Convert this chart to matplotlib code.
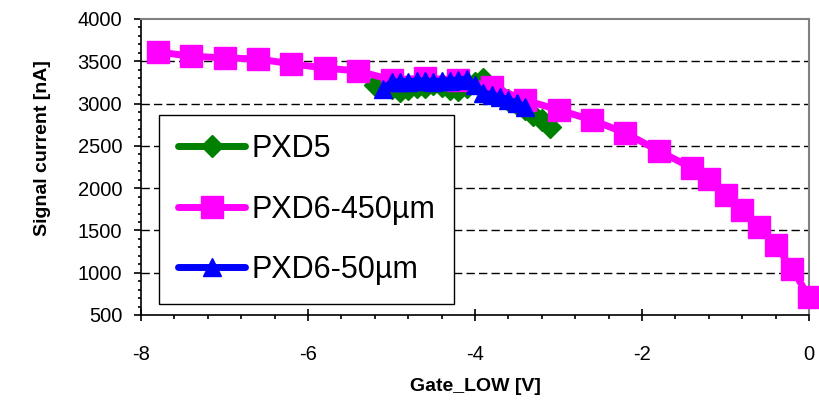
import numpy as np
import matplotlib
matplotlib.use('Agg')
import matplotlib.pyplot as plt
from matplotlib.ticker import MultipleLocator

plt.rcParams['font.family'] = ['Liberation Sans', 'DejaVu Sans']
plt.rcParams['axes.unicode_minus'] = False

# PXD5 (gruen, Rauten)
pxd5_x = [-5.2, -5.1, -5.0, -4.9, -4.8, -4.7, -4.6, -4.5, -4.4, -4.3, -4.2,
          -4.1, -4.0, -3.9, -3.8, -3.7, -3.6, -3.5, -3.4, -3.3, -3.2, -3.1]
pxd5_y = [3220, 3200, 3180, 3150, 3170, 3190, 3200, 3230, 3210, 3170, 3160,
          3200, 3240, 3290, 3180, 3100, 3040, 2990, 2940, 2870, 2800, 2720]

# PXD6-450um (magenta, Quadrate)
pxd6_450_x = [-7.8, -7.4, -7.0, -6.6, -6.2, -5.8, -5.4, -5.0, -4.6, -4.2,
              -3.8, -3.4, -3.0, -2.6, -2.2, -1.8, -1.4, -1.2, -1.0, -0.8,
              -0.6, -0.4, -0.2, 0.0]
pxd6_450_y = [3610, 3560, 3540, 3527, 3470, 3420, 3385, 3280, 3300, 3280,
              3200, 3040, 2925, 2806, 2652, 2440, 2238, 2108, 1920, 1742,
              1540, 1328, 1044, 713]

# PXD6-50um (blau, Dreiecke)
pxd6_50_x = [-5.1, -5.0, -4.9, -4.8, -4.7, -4.6, -4.5, -4.4, -4.3, -4.2,
             -4.1, -4.0, -3.9, -3.8, -3.7, -3.6, -3.5, -3.4]
pxd6_50_y = [3170, 3250, 3260, 3260, 3265, 3265, 3260, 3265, 3270, 3280,
             3290, 3220, 3130, 3100, 3080, 3040, 3010, 2960]

fig = plt.figure(figsize=(8.2, 4.11), dpi=100)
ax = fig.add_axes([0.172, 0.2336, 0.8146, 0.7202])

ax.plot(pxd5_x, pxd5_y, color='#008000', lw=5, marker='D', ms=11,
        mec='#008000', solid_capstyle='round', label='PXD5', zorder=3,
        clip_on=False)
ax.plot(pxd6_450_x, pxd6_450_y, color='#FF00FF', lw=5, marker='s', ms=15.5,
        mec='#FF00FF', solid_capstyle='round', label='PXD6-450µm', zorder=4,
        clip_on=False)
ax.plot(pxd6_50_x, pxd6_50_y, color='#0000FF', lw=5, marker='^', ms=12.5,
        mec='#0000FF', solid_capstyle='round', label='PXD6-50µm', zorder=5,
        clip_on=False)

ax.set_xlim(-8, 0)
ax.set_ylim(500, 4000)
ax.xaxis.set_major_locator(MultipleLocator(2))
ax.xaxis.set_minor_locator(MultipleLocator(0.4))
ax.yaxis.set_major_locator(MultipleLocator(500))
ax.yaxis.set_minor_locator(MultipleLocator(100))

ax.tick_params(axis='x', which='major', direction='inout', length=9, width=1.2,
               labelsize=14.5, pad=17)
ax.tick_params(axis='x', which='minor', direction='out', length=3, width=1.2)
ax.tick_params(axis='y', which='major', direction='out', length=5, width=1.2,
               labelsize=14.5, pad=8.5)
ax.tick_params(axis='y', which='minor', direction='out', length=2.5, width=1.2)

for y in [1000, 1500, 2000, 2500, 3000, 3500]:
    ax.axhline(y, color='black', lw=1, ls=(0, (6, 3)), zorder=1)

for s in ['left', 'bottom']:
    ax.spines[s].set_linewidth(1.2)
    ax.spines[s].set_color('black')
for s in ['top', 'right']:
    ax.spines[s].set_linewidth(1.5)
    ax.spines[s].set_color('#808080')

ax.set_xlabel('Gate_LOW [V]', fontsize=14, fontweight='bold')
ax.set_ylabel('Signal current [nA]', fontsize=14, fontweight='bold')
ax.xaxis.set_label_coords(0.5, -0.213)
ax.yaxis.set_label_coords(-0.135, 0.5625)

leg = ax.legend(loc='lower left', bbox_to_anchor=(0.027, 0.037),
                borderaxespad=0, fontsize=22, handlelength=2.2,
                handletextpad=0.2, labelspacing=1.0, borderpad=0.62,
                fancybox=False, framealpha=1, edgecolor='black')
leg.get_frame().set_linewidth(1)
leg.set_zorder(2)

fig.savefig('out.png', dpi=100)
